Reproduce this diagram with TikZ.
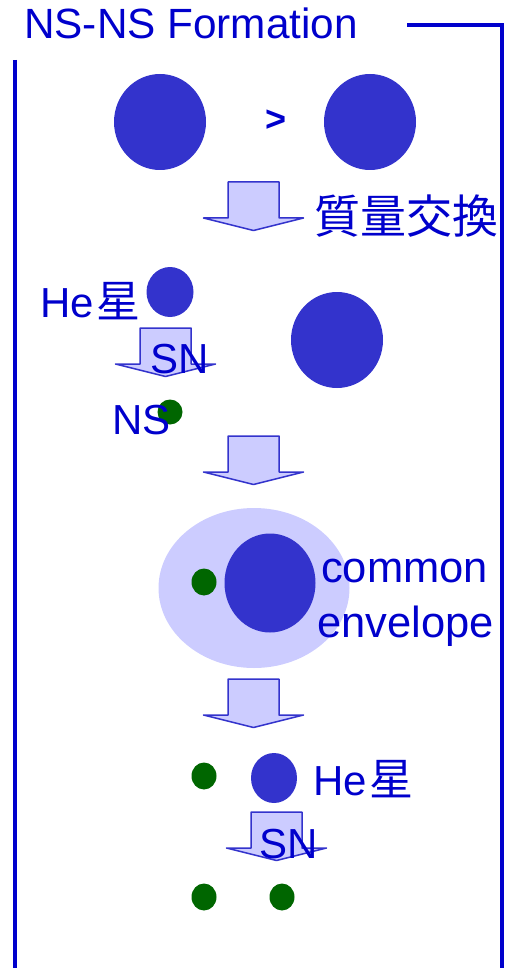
\documentclass[tikz,border=0pt]{standalone}
\usepackage{fontspec}
\setmainfont{Liberation Sans}
\newfontfamily\cjkfont{Noto Sans CJK JP}
\definecolor{txtblue}{RGB}{0,0,204}
\definecolor{starblue}{RGB}{51,51,204}
\definecolor{envfill}{RGB}{204,204,255}
\definecolor{nsgreen}{RGB}{0,102,0}
\tikzset{
  frameline/.style={draw=txtblue, line width=4.5pt},
  star/.style={fill=starblue, draw=none},
  nstar/.style={fill=nsgreen, draw=none},
  envelope/.style={fill=envfill, draw=none},
  lbl/.style={text=txtblue, inner sep=0pt, anchor=base west, font=\fontsize{42}{50}\selectfont},
  biglbl/.style={lbl, font=\fontsize{43.5}{50}\selectfont},
  pics/blockarrow/.style={code={
    \draw[fill=envfill, draw=starblue, line width=1.5pt, line join=round]
      (-25.5,0) -- (25.5,0) -- (25.5,36) -- (50,36) -- (0,48.5) -- (-50,36) -- (-25.5,36) -- cycle;
  }}
}
\begin{document}
\begin{tikzpicture}[x=1pt, y=-1pt]
\useasboundingbox (0,0) rectangle (512,968);

% frame
\draw[frameline] (15,60) -- (15,968);
\draw[frameline] (407,25) -- (502,25) -- (502,968);
\node[lbl, font=\fontsize{42.3}{50}\selectfont] (title) at (24,39) {NS-NS Formation};

% initial binary
\fill[star] (160,122) ellipse [x radius=46, y radius=48];
\fill[star] (370,122) ellipse [x radius=46, y radius=48];
\node[text=txtblue, font=\fontsize{36}{40}\selectfont\bfseries, inner sep=0pt] (gt) at (276.5,120.5) {>};

% mass transfer
\pic at (253.5,182) {blockarrow};
\node[text=txtblue, font=\fontsize{46}{50}\cjkfont, inner sep=0pt] (mt) at (406,216) {質量交換};

% He star and companion
\fill[star] (170,292) ellipse [x radius=23.5, y radius=25];
\node[lbl] (he1) at (40,317) {He\hspace{3pt}{\cjkfont\fontsize{44}{50}\selectfont 星}};
\fill[star] (337,340) ellipse [x radius=46, y radius=48];

\pic at (165.5,328) {blockarrow};
\node[lbl] (sn1) at (150,373) {SN};

\fill[nstar] (170,412) circle [radius=12.5];
\node[lbl] (ns) at (112,434) {NS};

\pic at (253.5,436) {blockarrow};

% common envelope
\fill[envelope] (254,588) ellipse [x radius=95.5, y radius=80];
\fill[star] (270,583) ellipse [x radius=45.5, y radius=49.5];
\fill[nstar] (204,582) ellipse [x radius=12.5, y radius=13.5];
\node[biglbl] (ce1) at (321,582) {common};
\node[biglbl] (ce2) at (317,637) {envelope};

\pic at (253.5,679) {blockarrow};

% second He star
\fill[nstar] (204,776) ellipse [x radius=12.5, y radius=13.5];
\fill[star] (274,778) ellipse [x radius=23, y radius=25];
\node[lbl] (he2) at (313,795) {He\hspace{3pt}{\cjkfont\fontsize{44}{50}\selectfont 星}};

\pic at (276.5,812) {blockarrow};
\node[lbl] (sn2) at (259,858) {SN};

% double neutron star
\fill[nstar] (204,897) ellipse [x radius=12.5, y radius=13.5];
\fill[nstar] (282,897) ellipse [x radius=12.5, y radius=13.5];
\end{tikzpicture}
\end{document}
